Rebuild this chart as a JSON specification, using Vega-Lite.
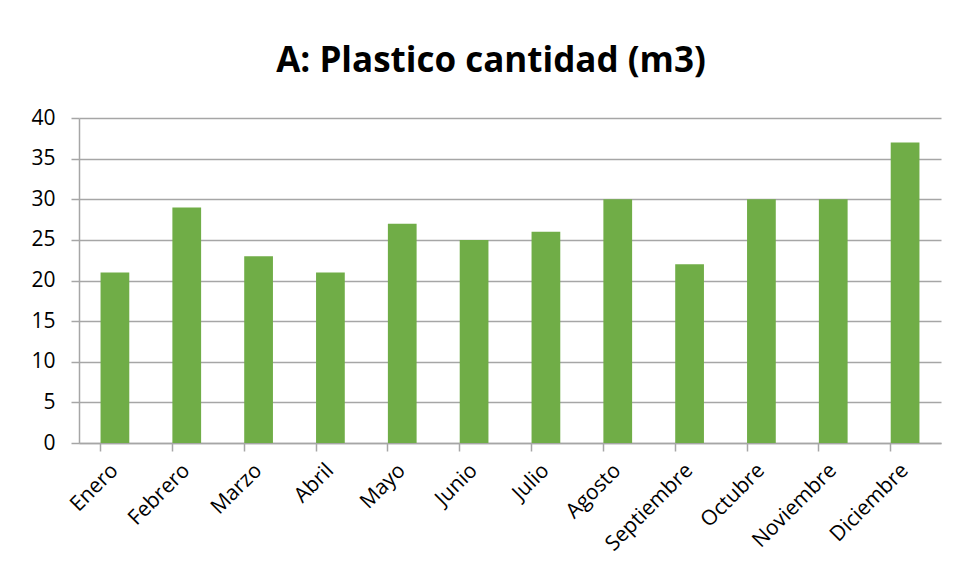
{
  "$schema": "https://vega.github.io/schema/vega-lite/v6.json",
  "autosize": {"type": "none"},
  "width": 862,
  "height": 325,
  "padding": {"left": 79, "top": 118, "right": 16, "bottom": 140},
  "background": "white",
  "title": {
    "text": "A: Plastico cantidad (m3)",
    "font": "Open Sans",
    "fontSize": 35,
    "fontWeight": "bold",
    "color": "#000000",
    "anchor": "middle",
    "frame": "group",
    "dx": -19,
    "offset": 28
  },
  "data": {
    "values": [
      {"mes": "Enero", "cantidad": 21},
      {"mes": "Febrero", "cantidad": 29},
      {"mes": "Marzo", "cantidad": 23},
      {"mes": "Abril", "cantidad": 21},
      {"mes": "Mayo", "cantidad": 27},
      {"mes": "Junio", "cantidad": 25},
      {"mes": "Julio", "cantidad": 26},
      {"mes": "Agosto", "cantidad": 30},
      {"mes": "Septiembre", "cantidad": 22},
      {"mes": "Octubre", "cantidad": 30},
      {"mes": "Noviembre", "cantidad": 30},
      {"mes": "Diciembre", "cantidad": 37}
    ]
  },
  "mark": {"type": "bar", "color": "#70AD47"},
  "encoding": {
    "x": {
      "field": "mes",
      "type": "nominal",
      "sort": null,
      "title": null,
      "scale": {"paddingInner": 0.6, "paddingOuter": 0.3},
      "axis": {
        "labelAngle": -45,
        "labelAlign": "right",
        "labelBaseline": "middle",
        "labelFont": "Open Sans",
        "labelFontSize": 21,
        "labelColor": "#000000",
        "labelPadding": 16,
        "bandPosition": 0,
        "tickSize": 8,
        "tickColor": "#a6a6a6",
        "domainColor": "#a6a6a6",
        "domainWidth": 1.5,
        "tickWidth": 1.5,
        "grid": false
      }
    },
    "y": {
      "field": "cantidad",
      "type": "quantitative",
      "title": null,
      "scale": {"domain": [0, 40], "nice": false},
      "axis": {
        "values": [0, 5, 10, 15, 20, 25, 30, 35, 40],
        "labelFont": "Open Sans",
        "labelFontSize": 21,
        "labelColor": "#000000",
        "labelPadding": 16,
        "tickSize": 8,
        "tickColor": "#a6a6a6",
        "tickWidth": 1.5,
        "domainColor": "#a6a6a6",
        "domainWidth": 1.5,
        "grid": true,
        "gridColor": "#a6a6a6",
        "gridWidth": 1.5
      }
    }
  },
  "config": {"view": {"stroke": null}}
}
